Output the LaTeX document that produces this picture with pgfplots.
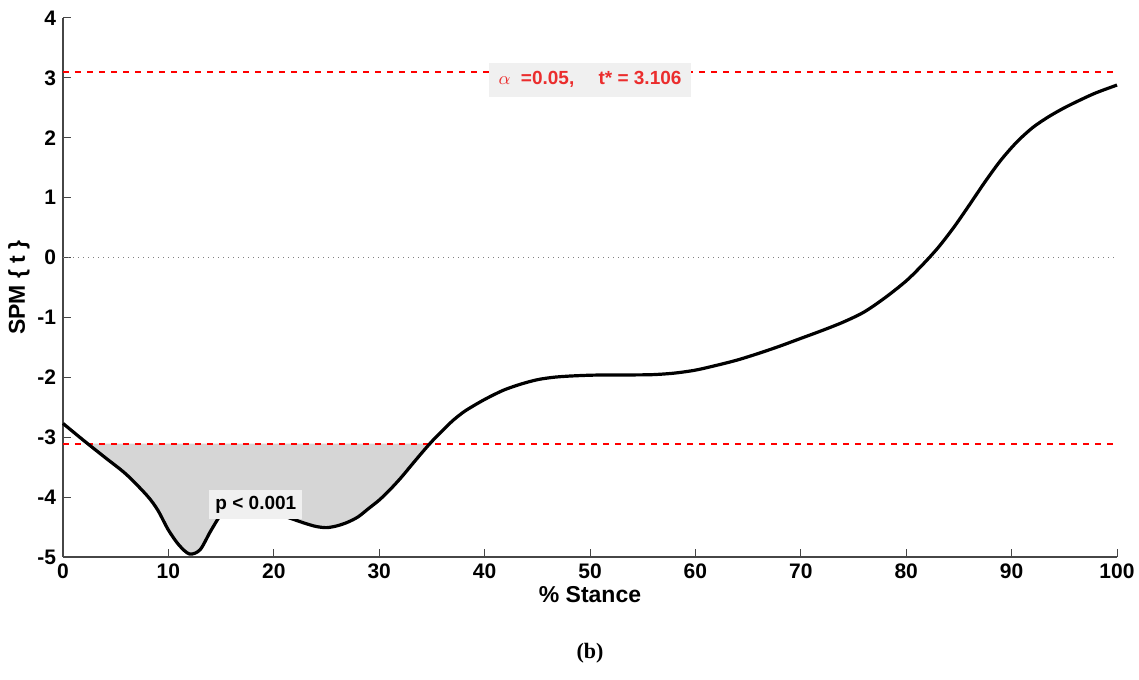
\documentclass[border=0pt]{standalone}
\usepackage{pgfplots}
\pgfplotsset{compat=1.18}
\usepackage{fontspec}
\setmainfont{Liberation Sans}
\newfontfamily\capfont{Liberation Serif}
\definecolor{axgray}{RGB}{70,70,70}
\definecolor{thr}{RGB}{235,45,45}
\definecolor{boxbg}{RGB}{240,240,240}
\begin{document}
\begin{tikzpicture}
\begin{axis}[
  scale only axis,
  width=527pt, height=269.5pt,
  xmin=0, xmax=100, ymin=-5, ymax=4,
  xtick={0,10,...,100}, ytick={-5,-4,...,4},
  axis x line*=bottom, axis y line*=left,
  axis line style={axgray, line width=0.6pt},
  tick style={axgray, line width=0.5pt},
  tick align=inside,
  major tick length=4pt,
  tick label style={font=\fontsize{10.5}{12}\selectfont\bfseries},
  /pgf/number format/assume math mode=true,
  xlabel={\bfseries\% Stance},
  ylabel={\bfseries SPM \{ t \}},
  label style={font=\fontsize{11.5}{13}\selectfont},
  xlabel style={yshift=3pt},
  ylabel style={yshift=-3pt},
  clip=false,
]
% supra-threshold cluster
\addplot[fill=black!16, draw=none, smooth, tension=0.4] coordinates {
(2.2,-3.106) (4,-3.34) (6,-3.62) (8,-3.98) (9,-4.22) (10,-4.55) (11,-4.80) (12,-4.95) (13,-4.88) (14,-4.57) (15,-4.29) (16,-4.15) (17,-4.10) (18,-4.13) (19,-4.20) (20,-4.27) (21,-4.32) (22,-4.38) (23,-4.44) (24,-4.49) (25,-4.51) (26,-4.48) (27,-4.42) (28,-4.33) (29,-4.19) (30,-4.05) (31,-3.88) (32,-3.69) (33,-3.48) (34,-3.27) (34.8,-3.106)
} -- cycle;
% threshold lines
\addplot[color=red, line width=1pt, dashed, mark=none] coordinates {(0,3.106) (100,3.106)};
\addplot[color=red, line width=1pt, dashed, mark=none] coordinates {(0,-3.106) (100,-3.106)};
\addplot[gray, dotted, line width=0.5pt, mark=none] coordinates {(0,0) (100,0)};
% SPM{t} curve
\addplot[black, line width=1.6pt, smooth, tension=0.5] coordinates {
(0,-2.77) (2,-3.06) (4,-3.34) (6,-3.62) (8,-3.98) (9,-4.22) (10,-4.55) (11,-4.80) (12,-4.95) (13,-4.88) (14,-4.57) (15,-4.29) (16,-4.15) (17,-4.10) (18,-4.13) (19,-4.20) (20,-4.27) (21,-4.32) (22,-4.38) (23,-4.44) (24,-4.49) (25,-4.51) (26,-4.48) (27,-4.42) (28,-4.33) (29,-4.19) (30,-4.05) (31,-3.88) (32,-3.69) (33,-3.48) (34,-3.27) (35,-3.07) (36,-2.89) (37,-2.72) (38,-2.58) (39,-2.47) (40,-2.37) (41,-2.28) (42,-2.20) (43.5,-2.11) (45,-2.04) (46.5,-2.00) (48,-1.98) (50,-1.965) (52,-1.96) (54,-1.96) (56,-1.955) (58,-1.93) (60,-1.88) (62,-1.80) (64,-1.71) (66,-1.60) (68,-1.48) (70,-1.35) (72,-1.22) (74,-1.08) (76,-0.91) (78,-0.67) (80,-0.39) (81.5,-0.13) (83,0.16) (84.5,0.50) (86,0.88) (87.5,1.27) (89,1.63) (90.5,1.93) (92,2.17) (93.5,2.35) (95,2.50) (96.5,2.63) (98,2.75) (100,2.88)
};
\node[fill=boxbg, inner sep=3pt, font=\fontsize{9.5}{11}\selectfont\bfseries] at (axis cs:18.3,-4.13) {p < 0.001};
\node[fill=boxbg, inner xsep=5pt, inner ysep=4.5pt, text=thr, font=\fontsize{9.5}{11}\selectfont\bfseries] at (axis cs:50,2.97) {$\alpha$\ \ =0.05,\quad\ t* = 3.106};
\end{axis}
\node[font=\capfont\fontsize{11}{13}\selectfont\bfseries] at ([yshift=-48pt]current axis.south) {(b)};
\pgfresetboundingbox
\path[use as bounding box] ([xshift=-31.5pt,yshift=-61.5pt]current axis.south west) rectangle ([xshift=11pt,yshift=9pt]current axis.north east);
\end{tikzpicture}
\end{document}
